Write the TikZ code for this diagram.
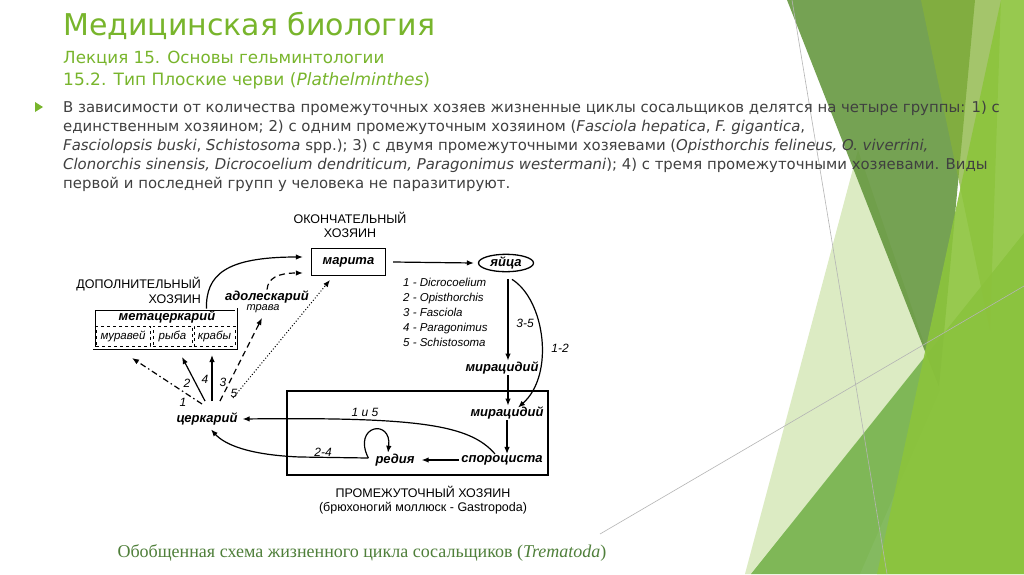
\documentclass[tikz,border=0pt]{standalone}
\usepackage{fontspec}
\setmainfont{DejaVu Sans}
\newfontfamily\schemefont{Liberation Sans}
\newfontfamily\capfont{Liberation Serif}
\usepackage{tikz}
\usetikzlibrary{arrows.meta, positioning, shapes.geometric}
\definecolor{titlegreen}{HTML}{78B52C}
\definecolor{bodygray}{HTML}{404040}
\definecolor{capgreen}{HTML}{4F7F3A}
\definecolor{leafdark}{HTML}{5E9236}
\definecolor{leafolive}{HTML}{86B23A}
\definecolor{leafmid}{HTML}{6FAF45}
\definecolor{leafbright}{HTML}{8CC43C}
\definecolor{leafpale}{HTML}{DCEBC3}
\definecolor{edgegray}{HTML}{B4B4B4}

\begin{document}
\begin{tikzpicture}[x=1pt, y=-1pt,
    arr/.style={-{Latex[length=7pt,width=5.5pt]}, line width=1.2pt},
    stage/.style={font=\schemefont\fontsize{13}{15}\selectfont\bfseries\itshape, inner sep=1pt},
    host/.style={font=\schemefont\fontsize{12.5}{14.5}\selectfont, align=center, inner sep=0pt},
    num/.style={font=\schemefont\fontsize{12}{14}\selectfont\itshape, inner sep=0pt},
    prey/.style={draw, dashed, line width=1pt, minimum height=20pt, inner sep=1pt, font=\schemefont\fontsize{11.5}{13}\selectfont\itshape},
    body/.style={anchor=base west, inner sep=0pt, text=bodygray, font=\fontsize{14.9}{17}\selectfont},
    head/.style={anchor=base west, inner sep=0pt, text=titlegreen}]
    \useasboundingbox (0,0) rectangle (1024,574);
    \fill[white] (0,0) rectangle (1024,574);
    \fill[leafpale] (858,150) -- (940,390) -- (860,574) -- (745,574) -- cycle;
    \fill[leafmid, opacity=.85] (751,574) -- (1024,233) -- (1024,574) -- cycle;
    \fill[leafdark, opacity=.85] (787,0) -- (975,0) -- (939,387) -- cycle;
    \fill[leafolive, opacity=.75] (921,0) -- (1001,0) -- (990,330) -- cycle;
    \fill[leafbright, opacity=.9] (1001,0) -- (1024,0) -- (1024,574) -- (877,574) -- cycle;
    \draw[edgegray, line width=.6pt] (792,0) -- (887,574);
    \draw[edgegray, line width=.6pt] (600,534) -- (1024,286);

    \node[head, font=\fontsize{30}{32}\selectfont] (title) at (63,35) {Медицинская биология};
    \node[head, font=\fontsize{16.7}{20}\selectfont] (lecture) at (63,63) {Лекция 15. Основы гельминтологии};
    \node[head, font=\fontsize{17}{20}\selectfont] (section) at (63,85) {15.2. Тип Плоские черви (\textit{Plathelminthes})};
    \fill[titlegreen] (35,102) -- (43,107) -- (35,112) -- cycle;
    \node[body] (line1) at (63,112) {В зависимости от количества промежуточных хозяев жизненные циклы сосальщиков делятся на четыре группы: 1) с};
    \node[body] (line2) at (63,131) {единственным хозяином; 2) с одним промежуточным хозяином (\textit{Fasciola hepatica}, \textit{F. gigantica},};
    \node[body] (line3) at (63,150) {\textit{Fasciolopsis buski}, \textit{Schistosoma} spp.); 3) с двумя промежуточными хозяевами (\textit{Opisthorchis felineus, O. viverrini,}};
    \node[body] (line4) at (63,169) {\textit{Clonorchis sinensis, Dicrocoelium dendriticum, Paragonimus westermani}); 4) с тремя промежуточными хозяевами. Виды};
    \node[body] (line5) at (63,188) {первой и последней групп у человека не паразитируют.};

    \node[host] (finhost) at (350,225) {ОКОНЧАТЕЛЬНЫЙ\\ХОЗЯИН};
    \node[stage, draw, line width=1.3pt, minimum width=74pt, minimum height=27pt] (marita) at (348.5,262) {марита};
    \node[stage, draw, ellipse, line width=1.3pt, minimum width=55pt, minimum height=17pt, inner sep=0pt] (eggs) at (506,263) {яйца};
    \node[anchor=north west, align=left, inner sep=0pt, font=\schemefont\fontsize{11.5}{15}\selectfont\itshape] (genera) at (403,278)
        {1 - Dicrocoelium\\2 - Opisthorchis\\3 - Fasciola\\4 - Paragonimus\\5 - Schistosoma};
    \node[stage] (mirup) at (502,368) {мирацидий};
    \node[draw, line width=1.2pt, minimum width=261pt, minimum height=84pt] (snail) at (417.5,433) {};
    \node[stage] (mirin) at (507,413) {мирацидий};
    \node[stage] (sporo) at (502,460) {спороциста};
    \node[stage] (redia) at (395,460) {редия};
    \node[stage] (cerc) at (207,419) {церкарий};
    \node[host] (inthost) at (423,500) {ПРОМЕЖУТОЧНЫЙ ХОЗЯИН\\(брюхоногий моллюск - Gastropoda)};
    \node[host, align=right, anchor=east, font=\schemefont\fontsize{12.5}{15}\selectfont] (addhost) at (201,290) {ДОПОЛНИТЕЛЬНЫЙ\\ХОЗЯИН};
    \node[draw, double, line width=.8pt, double distance=1.4pt, minimum width=142pt, minimum height=39pt] (metabox) at (165,328.5) {};
    \node[stage] (meta) at (167,317) {метацеркарий};
    \node[prey, minimum width=54pt] (ant) at (123,336) {муравей};
    \node[prey, minimum width=39pt] (fish) at (172.5,336) {рыба};
    \node[prey, minimum width=41pt] (crab) at (214.5,336) {крабы};
    \node[stage] (adol) at (267,297) {адолескарий};
    \node[inner sep=0pt, font=\schemefont\fontsize{11}{13}\selectfont\itshape] (grass) at (263,309) {трава};

    \coordinate (s1) at (202,404);
    \coordinate (s2) at (205,401);
    \coordinate (s4) at (212,401);
    \coordinate (s3) at (220,401);
    \coordinate (s5) at (233,398);
    \coordinate (t1) at (132,358);
    \coordinate (t2) at (182,357);
    \coordinate (t4) at (212,355);
    \coordinate (t3) at (262,318);
    \coordinate (t5) at (330,280);
    \coordinate (rl) at ([xshift=-6pt,yshift=2pt]redia.west);

    \draw[arr, dash pattern=on 6pt off 3pt on 1.5pt off 3pt] (s1) -- (t1);
    \draw[arr] (s2) -- (t2);
    \draw[arr] (s4) -- (t4);
    \draw[arr, dash pattern=on 6pt off 4pt] (s3) -- (t3);
    \draw[arr, line width=1pt, dotted] (s5) -- (t5);
    \node[num] (n1) at (183,402) {1};
    \node[num] (n2) at (187,383) {2};
    \node[num] (n4) at (205,379) {4};
    \node[num] (n3) at (223,382) {3};
    \node[num] (n5) at (234,393) {5};

    \draw[arr] ([xshift=-30pt]metabox.north east) .. controls (206,275) and (225,257) .. ([xshift=-8pt,yshift=5pt]marita.west);
    \draw[arr, dash pattern=on 6pt off 4pt] (adol.north) .. controls (268,278) and (278,273) .. ([xshift=-8pt,yshift=-11pt]marita.west);
    \draw[arr] ([xshift=7pt]marita.east) -- ([xshift=-4pt]eggs.west);
    \draw[arr] ([xshift=2pt,yshift=-7pt]eggs.south) -- ([xshift=6pt]mirup.north);
    \draw[arr] ([xshift=6pt,yshift=-7pt]eggs.south) .. controls (545,300) and (555,375) .. ([xshift=11pt,yshift=-2pt]mirin.north);
    \draw[arr] ([xshift=6pt]mirup.south) -- ([xshift=1pt]mirin.north);
    \draw[arr] (mirin.south) -- (mirin.south |- sporo.north);
    \draw[arr, shorten <=1pt, shorten >=6pt] (sporo.west) -- (redia.east);
    \draw[arr] (rl) .. controls (352,425) and (392,418) .. ([xshift=-7pt]redia.north);
    \draw[arr] (rl) -- (300,457) .. controls (250,455) and (225,445) .. ([xshift=4pt,yshift=-3pt]cerc.south);
    \draw[arr] ([xshift=-7pt]sporo.north) .. controls (470,425) and (420,417) .. ([xshift=4pt]cerc.east);
    \node[num] (l35) at (525,323) {3-5};
    \node[num] (l12) at (560,348) {1-2};
    \node[num] (l15) at (365,412) {1 и 5};
    \node[num] (l24) at (323,452) {2-4};

    \node[inner sep=0pt, text=capgreen, font=\capfont\fontsize{18}{20}\selectfont] (caption) at (362,553) {Обобщенная схема жизненного цикла сосальщиков (\textit{Trematoda})};
\end{tikzpicture}
\end{document}
